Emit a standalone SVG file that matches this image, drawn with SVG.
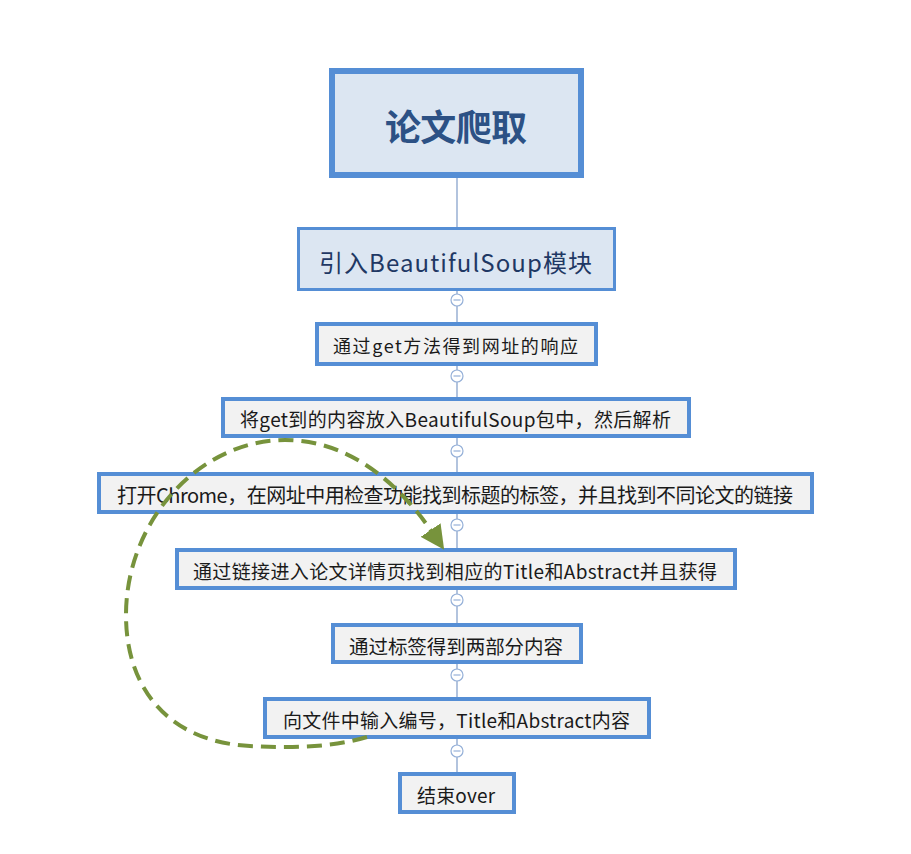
<svg xmlns="http://www.w3.org/2000/svg" width="911" height="854" viewBox="0 0 911 854">
<defs>
<style>
.box{fill:#f2f2f2;stroke:#558ed5;stroke-width:4}
.blue{fill:#dce6f2;stroke:#558ed5}
.t{font-family:"Noto Sans CJK SC","Microsoft YaHei",sans-serif;fill:#1a1a1a;text-anchor:middle;dominant-baseline:central}
.conn{stroke:#7f9cc8;stroke-width:1.2;fill:none}
.col{fill:#fff;stroke:#95b0d8;stroke-width:1.2}
.minus{stroke:#95b0d8;stroke-width:1.2}
.loop{fill:none;stroke:#77933c;stroke-width:4;stroke-dasharray:15 8}
</style>
<marker id="arr" markerUnits="userSpaceOnUse" markerWidth="24" markerHeight="24" refX="2" refY="10" orient="auto" viewBox="0 0 20 20">
<path d="M0,0 L20,10 L0,20 Z" fill="#77933c"/>
</marker>
</defs>
<rect width="911" height="854" fill="#fff"/>
<g id="connectors">
<line class="conn" x1="457" y1="178" x2="457" y2="227"/>
<line class="conn" x1="457" y1="291" x2="457" y2="322"/>
<line class="conn" x1="457" y1="366" x2="457" y2="397"/>
<line class="conn" x1="457" y1="438" x2="457" y2="472"/>
<line class="conn" x1="457" y1="514" x2="457" y2="548"/>
<line class="conn" x1="457" y1="590" x2="457" y2="623"/>
<line class="conn" x1="457" y1="664" x2="457" y2="697"/>
<line class="conn" x1="457" y1="739" x2="457" y2="772"/>
<g>
<circle class="col" cx="457" cy="300" r="6"/><line class="minus" x1="453.5" y1="300" x2="460.5" y2="300"/>
<circle class="col" cx="457" cy="376" r="6"/><line class="minus" x1="453.5" y1="376" x2="460.5" y2="376"/>
<circle class="col" cx="457" cy="451" r="6"/><line class="minus" x1="453.5" y1="451" x2="460.5" y2="451"/>
<circle class="col" cx="457" cy="525" r="6"/><line class="minus" x1="453.5" y1="525" x2="460.5" y2="525"/>
<circle class="col" cx="457" cy="600" r="6"/><line class="minus" x1="453.5" y1="600" x2="460.5" y2="600"/>
<circle class="col" cx="457" cy="675" r="6"/><line class="minus" x1="453.5" y1="675" x2="460.5" y2="675"/>
<circle class="col" cx="457" cy="751" r="6"/><line class="minus" x1="453.5" y1="751" x2="460.5" y2="751"/>
</g>
</g>
<g id="n0">
<rect class="blue" x="332" y="71" width="249" height="104" stroke-width="6"/>
<text class="t" x="456" y="125" font-size="36" font-weight="bold" style="fill:#2c5185" textLength="142">论文爬取</text>
</g>
<g id="n1">
<rect class="blue" x="298.5" y="228.5" width="316" height="61" stroke-width="3"/>
<text class="t" x="455.5" y="261" font-size="24" style="fill:#1f3864" textLength="273">引入BeautifulSoup模块</text>
</g>
<g id="n2">
<rect class="box" x="317" y="324" width="279" height="40"/>
<text class="t" x="455.5" y="345" font-size="18" textLength="245">通过get方法得到网址的响应</text>
</g>
<g id="n3">
<rect class="box" x="223" y="399" width="466" height="37"/>
<text class="t" x="455.5" y="418" font-size="19" textLength="431">将get到的内容放入BeautifulSoup包中，然后解析</text>
</g>
<g id="n4">
<rect class="box" x="99" y="474" width="713" height="38"/>
<text class="t" x="455" y="494" font-size="20" textLength="676">打开Chrome，在网址中用检查功能找到标题的标签，并且找到不同论文的链接</text>
</g>
<g id="n5">
<rect class="box" x="177" y="550" width="558" height="38"/>
<text class="t" x="455" y="570" font-size="19" textLength="524">通过链接进入论文详情页找到相应的Title和Abstract并且获得</text>
</g>
<g id="n6">
<rect class="box" x="333" y="625" width="248" height="37"/>
<text class="t" x="456" y="645" font-size="19.5" textLength="214">通过标签得到两部分内容</text>
</g>
<g id="n7">
<rect class="box" x="265" y="699" width="384" height="38"/>
<text class="t" x="456.5" y="719" font-size="19" textLength="347">向文件中输入编号，Title和Abstract内容</text>
</g>
<g id="n8">
<rect class="box" x="400" y="774" width="114" height="38"/>
<text class="t" x="456" y="794" font-size="19" textLength="78">结束over</text>
</g>
<g id="loop">
<path class="loop" marker-end="url(#arr)" d="M 367 737 C 330 748, 290 748, 250 746 C 170 742, 126 690, 126 615 C 126 520, 200 440, 285 440 C 350 440, 400 485, 432 532"/>
</g>
</svg>
